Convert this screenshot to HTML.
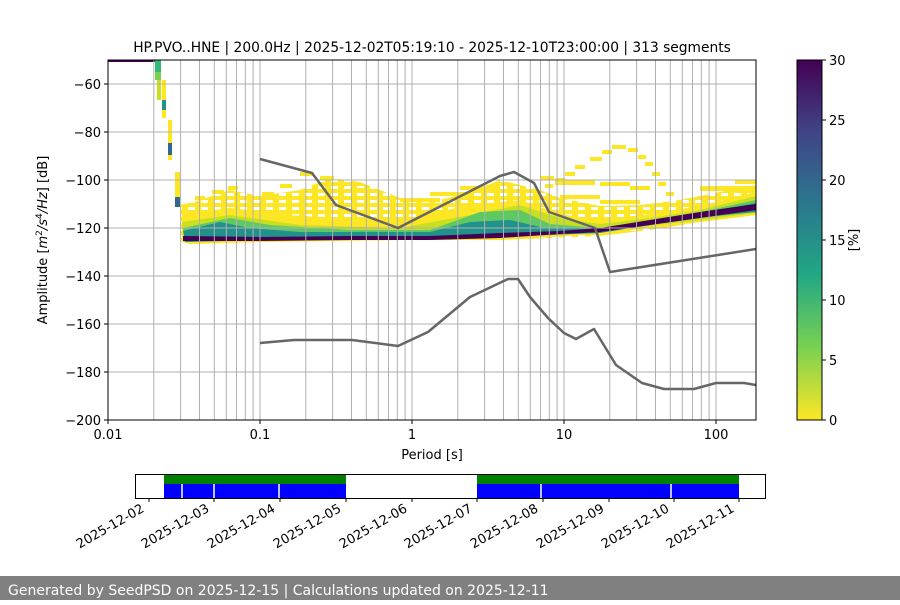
<!DOCTYPE html>
<html><head><meta charset="utf-8"><style>
body{margin:0;background:#fff;font-family:"Liberation Sans","DejaVu Sans",sans-serif}
svg text{font-family:"DejaVu Sans","Liberation Sans",sans-serif;font-size:13px;fill:#000}
</style></head><body>
<svg width="900" height="600" viewBox="0 0 900 600" xmlns="http://www.w3.org/2000/svg">
<defs>
<linearGradient id="vir" x1="0" y1="1" x2="0" y2="0">
<stop offset="0" stop-color="#fde725"/><stop offset="0.2" stop-color="#7ad151"/><stop offset="0.4" stop-color="#22a884"/><stop offset="0.6" stop-color="#2a788e"/><stop offset="0.8" stop-color="#414487"/><stop offset="1" stop-color="#440154"/>
</linearGradient>
<pattern id="str" width="13" height="7" patternUnits="userSpaceOnUse">
<rect x="0" y="0" width="13" height="4" fill="#fde725"/><rect x="0" y="4" width="6" height="3" fill="#fde725"/>
</pattern>
<clipPath id="ax"><rect x="108" y="60" width="648" height="360"/></clipPath>
</defs>
<text x="432" y="52" text-anchor="middle" style="font-size:13.8px">HP.PVO..HNE | 200.0Hz | 2025-12-02T05:19:10 - 2025-12-10T23:00:00 | 313 segments</text>
<g clip-path="url(#ax)">
<g>
<rect x="108" y="60" width="47" height="2" fill="#440154"/>
<rect x="155" y="60" width="6" height="12" fill="#35b779"/><rect x="155" y="72" width="6" height="8" fill="#7ad151"/>
<rect x="157" y="80" width="4" height="20" fill="#c8e020"/>
<rect x="162" y="80" width="4" height="38" fill="#fde725"/><rect x="162" y="100" width="4" height="10" fill="#21918c"/>
<rect x="168" y="120" width="4" height="40" fill="#fde725"/><rect x="168" y="143" width="4" height="12" fill="#31688e"/>
<rect x="175" y="172" width="5" height="35" fill="#fde725"/><rect x="175" y="197" width="5" height="10" fill="#31688e"/>
<polygon fill="url(#str)" points="180,205 200,200 230,190 260,196 300,190 330,178 360,182 400,198 440,200 470,192 500,180 540,190 560,198 600,206 640,205 680,200 720,192 756,185 756,215 700,222 650,230 600,236 500,240 400,240 260,242 190,244 180,240"/>
<polygon fill="#fde725" points="182,214 230,208 300,216 400,220 470,205 520,200 560,214 600,220 650,214 700,206 756,192 756,215 700,222 600,234 500,240 400,240 260,242 190,244 182,242"/>
<polygon fill="#c8e020" points="182,222 230,215 300,225 400,228 470,215 520,205 560,218 600,224 650,218 700,210 756,196 756,213 700,220 600,232 500,236 400,238 260,240 185,242"/>
<polygon fill="#5ec962" points="183,228 230,218 270,225 350,230 430,230 480,212 520,210 550,224 600,228 650,222 700,212 756,200 756,212 700,218 600,232 500,236 400,238 260,240 185,242"/>
<polygon fill="#21918c" points="183,231 220,222 250,228 300,232 430,232 470,222 510,220 545,228 600,229 650,222 700,213 756,203 756,212 700,217 600,233 500,237 400,239 260,240 185,242"/>
<polygon fill="#440154" points="183,236 260,237 350,236 430,236 500,233 560,231 600,228 650,220 700,212 756,204 756,210 700,218 650,225 600,232 560,234 500,238 430,240 350,240 260,241 183,241"/>
<g fill="#fde725">
<rect x="300" y="172" width="14" height="4"/><rect x="320" y="176" width="14" height="4"/><rect x="335" y="182" width="14" height="4"/><rect x="350" y="188" width="14" height="4"/><rect x="365" y="196" width="14" height="4"/>
<rect x="280" y="184" width="12" height="4"/><rect x="262" y="192" width="12" height="4"/>
<rect x="212" y="190" width="12" height="4"/><rect x="228" y="186" width="10" height="4"/><rect x="195" y="196" width="10" height="4"/>
<rect x="590" y="157" width="12" height="4"/><rect x="602" y="150" width="10" height="4"/><rect x="612" y="145" width="14" height="4"/><rect x="628" y="148" width="10" height="4"/><rect x="638" y="155" width="8" height="4"/><rect x="645" y="162" width="8" height="4"/><rect x="652" y="172" width="8" height="4"/><rect x="658" y="182" width="8" height="4"/><rect x="666" y="192" width="8" height="4"/>
<rect x="575" y="165" width="10" height="4"/><rect x="565" y="172" width="10" height="4"/><rect x="555" y="178" width="10" height="4"/><rect x="545" y="184" width="8" height="4"/>
<rect x="540" y="176" width="14" height="4"/><rect x="555" y="180" width="40" height="5"/><rect x="600" y="182" width="30" height="4"/><rect x="630" y="186" width="20" height="4"/>
<rect x="560" y="195" width="40" height="4"/><rect x="600" y="200" width="40" height="4"/><rect x="700" y="186" width="56" height="5"/><rect x="735" y="180" width="21" height="4"/>
<rect x="460" y="186" width="40" height="4"/><rect x="430" y="192" width="40" height="4"/><rect x="400" y="198" width="40" height="4"/>
</g>
</g>
<g stroke="#b0b0b0" stroke-width="1">
<path d="M108 84H756M108 132H756M108 180H756M108 228H756M108 276H756M108 324H756M108 372H756"/>
<path d="M153.8 60V420M180.6 60V420M199.5 60V420M214.3 60V420M226.3 60V420M236.5 60V420M245.3 60V420M253.1 60V420M260 60V420M305.8 60V420M332.6 60V420M351.5 60V420M366.3 60V420M378.3 60V420M388.5 60V420M397.3 60V420M405.1 60V420M412 60V420M457.8 60V420M484.6 60V420M503.5 60V420M518.3 60V420M530.3 60V420M540.5 60V420M549.3 60V420M557.1 60V420M564 60V420M609.8 60V420M636.6 60V420M655.5 60V420M670.3 60V420M682.3 60V420M692.5 60V420M701.3 60V420M709.1 60V420M716 60V420"/>
</g>
<g fill="none" stroke="#666" stroke-width="2.5" stroke-linejoin="round">
<polyline points="260,159 312,173 336,205 398,228 500,176 514,172 534,183 549,212 595,228 610,272 756,249"/>
<polyline points="260,343 294,340 352,340 398,346 428,332 470,297 508,279 518,279 530,297 548,318 564,333 576,339 594,329 616,365 642,383 664,389 694,389 716,383 744,383 756,385"/>
</g>
</g>
<rect x="108" y="60" width="648" height="360" fill="none" stroke="#000" stroke-width="1"/>
<g stroke="#000"><path d="M104 84H108M104 132H108M104 180H108M104 228H108M104 276H108M104 324H108M104 372H108M104 420H108M108 420V424M260 420V424M412 420V424M564 420V424M716 420V424"/></g>
<g text-anchor="end"><text x="101" y="89">−60</text><text x="101" y="137">−80</text><text x="101" y="185">−100</text><text x="101" y="233">−120</text><text x="101" y="281">−140</text><text x="101" y="329">−160</text><text x="101" y="377">−180</text><text x="101" y="425">−200</text></g>
<g text-anchor="middle"><text x="108" y="439">0.01</text><text x="260" y="439">0.1</text><text x="412" y="439">1</text><text x="564" y="439">10</text><text x="716" y="439">100</text><text x="432" y="459">Period [s]</text></g>
<text transform="translate(47,240) rotate(-90)" text-anchor="middle">Amplitude [<tspan font-style="italic">m</tspan><tspan font-size="9" dy="-5">2</tspan><tspan dy="5" font-style="italic">/s</tspan><tspan font-size="9" dy="-5">4</tspan><tspan dy="5" font-style="italic">/Hz</tspan>] [dB]</text>
<rect x="797" y="60" width="25" height="360" fill="url(#vir)" stroke="#000"/>
<g stroke="#000"><path d="M822 60H826M822 120H826M822 180H826M822 240H826M822 300H826M822 360H826M822 420H826"/></g>
<g><text x="829" y="65">30</text><text x="829" y="125">25</text><text x="829" y="185">20</text><text x="829" y="245">15</text><text x="829" y="305">10</text><text x="829" y="365">5</text><text x="829" y="425">0</text></g>
<text transform="translate(858,240) rotate(-90)" text-anchor="middle">[%]</text>
<rect x="164" y="474" width="182" height="10" fill="#008000"/><rect x="477" y="474" width="262" height="10" fill="#008000"/>
<rect x="164" y="484" width="182" height="14" fill="#0000ff"/><rect x="477" y="484" width="262" height="14" fill="#0000ff"/>
<g stroke="#fff" stroke-width="1.5"><path d="M182 484V498M214 484V498M279 484V498M541 484V498M671 484V498"/></g>
<rect x="135.5" y="474.5" width="630" height="24" fill="none" stroke="#000"/>
<g stroke="#000"><path d="M149 498V502M214 498V502M280 498V502M346 498V502M412 498V502M477 498V502M543 498V502M609 498V502M674 498V502M739 498V502"/></g>
<g text-anchor="end">
<text transform="translate(145,511) rotate(-30)">2025-12-02</text><text transform="translate(210,511) rotate(-30)">2025-12-03</text><text transform="translate(276,511) rotate(-30)">2025-12-04</text><text transform="translate(342,511) rotate(-30)">2025-12-05</text><text transform="translate(408,511) rotate(-30)">2025-12-06</text><text transform="translate(473,511) rotate(-30)">2025-12-07</text><text transform="translate(539,511) rotate(-30)">2025-12-08</text><text transform="translate(605,511) rotate(-30)">2025-12-09</text><text transform="translate(670,511) rotate(-30)">2025-12-10</text><text transform="translate(735,511) rotate(-30)">2025-12-11</text>
</g>
<rect x="0" y="576" width="900" height="24" fill="#808080"/>
<text x="8" y="595" style="fill:#fff;font-size:14px">Generated by SeedPSD on 2025-12-15 | Calculations updated on 2025-12-11</text>
</svg>
</body></html>
